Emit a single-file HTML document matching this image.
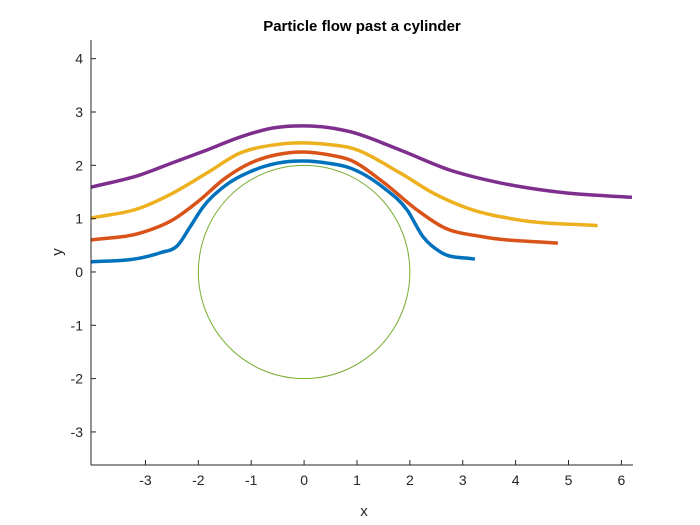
<!DOCTYPE html>
<html><head><meta charset="utf-8"><style>
html,body{margin:0;padding:0;background:#fff;}
svg{display:block;font-family:"Liberation Sans",Arial,sans-serif;}
</style></head><body>
<svg id="chart" width="700" height="525">
<text x="362" y="31" text-anchor="middle" font-size="15" font-weight="bold" fill="#000">Particle flow past a cylinder</text>
<g id="plot"></g>
<text x="364" y="516" text-anchor="middle" font-size="15" fill="#262626">x</text>
<text x="62" y="252" text-anchor="middle" font-size="15" fill="#262626" transform="rotate(-90 62 252)">y</text>
</svg>
<script>
const xTicks=[-3,-2,-1,0,1,2,3,4,5,6];
const yTicks=[-3,-2,-1,0,1,2,3,4];
const blueX=[-4.03,-3.10,-2.72,-2.38,-2.16,-1.91,-1.53,-1.02,-0.51,0,0.45,0.87,1.49,1.95,2.25,2.57,3.23];
const blueY=[0.19,0.26,0.36,0.51,0.84,1.22,1.59,1.88,2.04,2.08,2.04,1.95,1.59,1.16,0.66,0.38,0.24];
const redX=[-4.03,-3.10,-2.48,-1.97,-1.53,-1.02,-0.51,0,0.45,0.87,1.49,2.14,2.63,3.38,4.8];
const redY=[0.6,0.73,0.98,1.35,1.73,2.04,2.2,2.25,2.2,2.1,1.69,1.16,0.84,0.66,0.54];
const yellowX=[-4.03,-3.10,-2.48,-1.83,-1.21,-0.59,0,0.45,0.87,1.81,2.44,3.08,4.03,5.55];
const yellowY=[1.01,1.2,1.48,1.86,2.23,2.38,2.42,2.39,2.33,1.86,1.48,1.2,0.98,0.87];
const purpleX=[-4.03,-3.10,-2.48,-1.83,-1.21,-0.59,0,0.45,0.87,1.81,2.76,3.71,4.97,6.2];
const purpleY=[1.59,1.82,2.05,2.29,2.53,2.7,2.74,2.71,2.63,2.29,1.91,1.67,1.48,1.4];
const cylR=2;

const L=91,R=633,T=40,B=465;
const xMin=-4.03,xMax=6.22,yMin=-3.62,yMax=4.35;
const sx=v=>L+(v-xMin)/(xMax-xMin)*(R-L);
const sy=v=>B-(v-yMin)/(yMax-yMin)*(B-T);
const NS="http://www.w3.org/2000/svg";
const g=document.getElementById('plot');
function mk(t,a){const e=document.createElementNS(NS,t);for(const k in a)e.setAttribute(k,a[k]);g.appendChild(e);return e;}

const c=mk('ellipse',{cx:sx(0),cy:sy(0),rx:sx(cylR)-sx(0),ry:sy(0)-sy(cylR),fill:'none',stroke:'#77AC30','stroke-width':1});



// cubic Hermite in x with non-uniform finite-difference tangents
function smooth(xs,ys){
  const n=xs.length,m=[];
  for(let i=0;i<n;i++){
    if(i===0)m.push((ys[1]-ys[0])/(xs[1]-xs[0]));
    else if(i===n-1)m.push((ys[n-1]-ys[n-2])/(xs[n-1]-xs[n-2]));
    else{
      const h0=xs[i]-xs[i-1],h1=xs[i+1]-xs[i];
      const d0=(ys[i]-ys[i-1])/h0,d1=(ys[i+1]-ys[i])/h1;
      m.push((h1*d0+h0*d1)/(h0+h1));
    }
  }
  let d='M'+sx(xs[0])+','+sy(ys[0]);
  for(let i=0;i<n-1;i++){
    const h=xs[i+1]-xs[i];
    const c1x=xs[i]+h/3,c1y=ys[i]+m[i]*h/3;
    const c2x=xs[i+1]-h/3,c2y=ys[i+1]-m[i+1]*h/3;
    d+=' C'+sx(c1x)+','+sy(c1y)+' '+sx(c2x)+','+sy(c2y)+' '+sx(xs[i+1])+','+sy(ys[i+1]);
  }
  return d;
}
const series=[[blueX,blueY,'#0072BD','streamline-1'],[redX,redY,'#D95319','streamline-2'],[yellowX,yellowY,'#EDB120','streamline-3'],[purpleX,purpleY,'#7E2F8E','streamline-4']];
series.forEach(s=>{
  const p=mk('path',{d:smooth(s[0],s[1]),fill:'none',stroke:s[2],'stroke-width':3.5,'stroke-linecap':'butt','stroke-linejoin':'round'});
  
  
});

const ax=mk('line',{x1:L,y1:B,x2:R,y2:B,stroke:'#262626','stroke-width':1});


const ay=mk('line',{x1:L,y1:T,x2:L,y2:B,stroke:'#262626','stroke-width':1});


xTicks.forEach(v=>{
  const x=sx(v);
  mk('line',{x1:x,y1:B,x2:x,y2:B-5,stroke:'#262626'});
  const t=mk('text',{x:x,y:B+20,'text-anchor':'middle','font-size':14,fill:'#262626'});
  t.textContent=v<0?'-'+Math.abs(v):String(v);
  
  
});
yTicks.forEach(v=>{
  const y=sy(v);
  mk('line',{x1:L,y1:y,x2:L+5,y2:y,stroke:'#262626'});
  const t=mk('text',{x:L-8,y:y+5,'text-anchor':'end','font-size':14,fill:'#262626'});
  t.textContent=v<0?'-'+Math.abs(v):String(v);
  
  
});
</script>
</body></html>
